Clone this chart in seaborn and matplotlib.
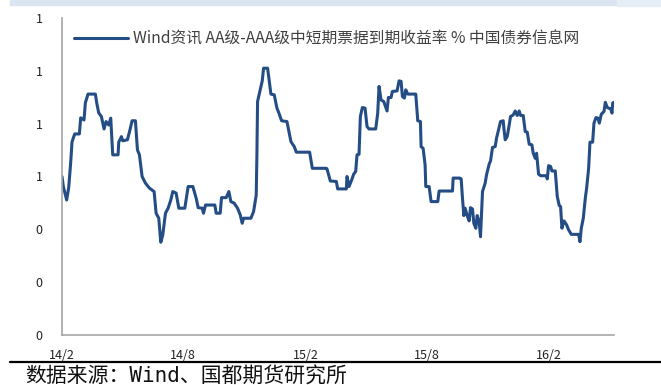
import pandas as pd
import matplotlib
matplotlib.use('Agg')
import matplotlib.pyplot as plt
import seaborn as sns
from matplotlib.lines import Line2D
from matplotlib.patches import Rectangle

# values (%, dates approx.)
dates = [
    '2014-02-01', '2014-02-03', '2014-02-08', '2014-02-11', '2014-02-14', '2014-02-16', '2014-02-20', '2014-02-27',
    '2014-03-01', '2014-03-06', '2014-03-08', '2014-03-12', '2014-03-23', '2014-03-25', '2014-03-28',
    '2014-04-01', '2014-04-05', '2014-04-08', '2014-04-12', '2014-04-15', '2014-04-18', '2014-04-26', '2014-04-27',
    '2014-05-01', '2014-05-03', '2014-05-10', '2014-05-13', '2014-05-17', '2014-05-22', '2014-05-25', '2014-05-28',
    '2014-06-01', '2014-06-06', '2014-06-12', '2014-06-19', '2014-06-22', '2014-06-26', '2014-06-29',
    '2014-07-02', '2014-07-06', '2014-07-10', '2014-07-14', '2014-07-17', '2014-07-22', '2014-07-26',
    '2014-08-04', '2014-08-09', '2014-08-16', '2014-08-21', '2014-08-24', '2014-08-30',
    '2014-09-01', '2014-09-04', '2014-09-18', '2014-09-20', '2014-09-26', '2014-09-28',
    '2014-10-05', '2014-10-09', '2014-10-12', '2014-10-17', '2014-10-22', '2014-10-26', '2014-10-29', '2014-10-31',
    '2014-11-11', '2014-11-15', '2014-11-19', '2014-11-20', '2014-11-21', '2014-11-25', '2014-11-28', '2014-11-30',
    '2014-12-06', '2014-12-09', '2014-12-11', '2014-12-16', '2014-12-20', '2014-12-23', '2014-12-27',
    '2015-01-04', '2015-01-07', '2015-01-10', '2015-01-15', '2015-01-18',
    '2015-02-07', '2015-02-11',
    '2015-03-04', '2015-03-05', '2015-03-10', '2015-03-19', '2015-03-21',
    '2015-04-03', '2015-04-04', '2015-04-07', '2015-04-11', '2015-04-14', '2015-04-17', '2015-04-19', '2015-04-22',
    '2015-04-24', '2015-04-27',
    '2015-05-01', '2015-05-04', '2015-05-07', '2015-05-17', '2015-05-20', '2015-05-22', '2015-05-25', '2015-05-29',
    '2015-06-03', '2015-06-05', '2015-06-09', '2015-06-11', '2015-06-18', '2015-06-21', '2015-06-24', '2015-06-26',
    '2015-06-29',
    '2015-07-01', '2015-07-04', '2015-07-16', '2015-07-19', '2015-07-23', '2015-07-24', '2015-07-27', '2015-07-30',
    '2015-07-31',
    '2015-08-05', '2015-08-08', '2015-08-18', '2015-08-20',
    '2015-09-09', '2015-09-10', '2015-09-20', '2015-09-22', '2015-09-24', '2015-09-26', '2015-09-28',
    '2015-10-01', '2015-10-04', '2015-10-06', '2015-10-09', '2015-10-11', '2015-10-14', '2015-10-16', '2015-10-19',
    '2015-10-21', '2015-10-24', '2015-10-28', '2015-10-30',
    '2015-11-03', '2015-11-05', '2015-11-08', '2015-11-12', '2015-11-14', '2015-11-17', '2015-11-20', '2015-11-24',
    '2015-11-25', '2015-11-27', '2015-11-30',
    '2015-12-03', '2015-12-05', '2015-12-09', '2015-12-12', '2015-12-15', '2015-12-18', '2015-12-20', '2015-12-24',
    '2015-12-27', '2015-12-30',
    '2016-01-02', '2016-01-06', '2016-01-08', '2016-01-11', '2016-01-13', '2016-01-16', '2016-01-19', '2016-01-28',
    '2016-01-29', '2016-01-31',
    '2016-02-03', '2016-02-05', '2016-02-10', '2016-02-13', '2016-02-16', '2016-02-18', '2016-02-20', '2016-02-23',
    '2016-02-27',
    '2016-03-01', '2016-03-05', '2016-03-16', '2016-03-18', '2016-03-20', '2016-03-23', '2016-03-26', '2016-03-28',
    '2016-03-31',
    '2016-04-02', '2016-04-06', '2016-04-08', '2016-04-11', '2016-04-14', '2016-04-16', '2016-04-19', '2016-04-23',
    '2016-04-25', '2016-04-28',
    '2016-05-03', '2016-05-05', '2016-05-06', '2016-05-08',
]
spread = [
    0.600, 0.562, 0.511, 0.557, 0.652, 0.731, 0.761, 0.761,
    0.822, 0.814, 0.879, 0.912, 0.912, 0.879, 0.841,
    0.827, 0.780, 0.808, 0.795, 0.821, 0.682, 0.682, 0.730,
    0.751, 0.735, 0.739, 0.768, 0.811, 0.811, 0.701, 0.682,
    0.600, 0.575, 0.556, 0.543, 0.461, 0.442, 0.351,
    0.379, 0.461, 0.480, 0.511, 0.543, 0.537, 0.480,
    0.480, 0.562, 0.562, 0.518, 0.482, 0.480,
    0.461, 0.492, 0.492, 0.461, 0.461, 0.520,
    0.520, 0.543, 0.505, 0.499, 0.480, 0.455, 0.423, 0.442,
    0.442, 0.467, 0.530, 0.682, 0.884, 0.928, 0.962, 1.010,
    1.010, 0.953, 0.912, 0.909, 0.859, 0.840, 0.811,
    0.808, 0.770, 0.732, 0.713, 0.692,
    0.692, 0.631,
    0.631, 0.629, 0.583, 0.581, 0.553,
    0.553, 0.600, 0.562, 0.587, 0.609, 0.619, 0.682, 0.684, 0.827, 0.861,
    0.859, 0.789, 0.780, 0.780, 0.840, 0.941, 0.890, 0.884,
    0.848, 0.899, 0.899, 0.922, 0.924, 0.962, 0.960, 0.903, 0.897,
    0.928, 0.912, 0.912, 0.811, 0.808, 0.713, 0.707, 0.644, 0.562,
    0.562, 0.505, 0.505, 0.545,
    0.545, 0.594, 0.594, 0.591, 0.518, 0.452, 0.480,
    0.452, 0.432, 0.482, 0.477, 0.423, 0.404, 0.452, 0.429, 0.372, 0.543, 0.575, 0.606,
    0.647, 0.659, 0.710, 0.713, 0.745, 0.777, 0.808, 0.811, 0.783, 0.739, 0.751,
    0.795, 0.827, 0.833, 0.848, 0.831, 0.848, 0.831, 0.831, 0.770, 0.768,
    0.722, 0.720, 0.688, 0.669, 0.688, 0.609, 0.603, 0.603, 0.591, 0.641,
    0.638, 0.621, 0.621, 0.524, 0.490, 0.486, 0.404, 0.432, 0.417,
    0.398, 0.381, 0.381, 0.353, 0.404, 0.442, 0.518, 0.556, 0.631,
    0.730, 0.730, 0.802, 0.823, 0.821, 0.802, 0.836, 0.846, 0.881, 0.861,
    0.856, 0.840, 0.878, 0.881,
]
tick_dates = ['2014-02-01', '2014-08-01', '2015-02-01', '2015-08-01', '2016-02-01']
tick_labels = ['14/2', '14/8', '15/2', '15/8', '16/2']
series_name = 'Wind资讯 AA级-AAA级中短期票据到期收益率 % 中国债券信息网'
source_note = '数据来源：Wind、国都期货研究所'

sns.set_style('white')
plt.rcParams['font.family'] = ['Noto Sans CJK SC', 'DejaVu Sans']

df = pd.DataFrame({'date': pd.to_datetime(dates), 'spread': spread})

fig = plt.figure(figsize=(6.61, 3.85), dpi=100)
ax = fig.add_axes([62 / 661, 1 - 335 / 385, 552 / 661, 317 / 385])

sns.lineplot(data=df, x='date', y='spread', ax=ax, color='#234d84', linewidth=2.2,
             label=series_name)

ax.set_xlim(pd.Timestamp('2014-02-01'), pd.Timestamp('2016-05-08'))
ax.set_ylim(0, 1.2)
ax.set_yticks([0, 0.2, 0.4, 0.6, 0.8, 1.0, 1.2])
ax.set_yticklabels([f'{v:.0f}' for v in [0, 0.2, 0.4, 0.6, 0.8, 1.0, 1.2]])
ax.set_xticks(pd.to_datetime(tick_dates))
ax.set_xticklabels(tick_labels)
ax.set_xlabel('')
ax.set_ylabel('')

for side in ['top', 'right']:
    ax.spines[side].set_visible(False)
for side in ['left', 'bottom']:
    ax.spines[side].set_color('#a6a6a6')
    ax.spines[side].set_linewidth(1.2)
ax.tick_params(axis='y', direction='out', length=4, width=1.2, color='#a6a6a6',
               pad=10, labelsize=9, labelcolor='#222222')
ax.tick_params(axis='x', direction='out', length=4, width=1.2, color='#a6a6a6',
               pad=6, labelsize=9, labelcolor='#222222')

leg = ax.legend(loc='center left', bbox_to_anchor=(0.022, 0.934), frameon=False,
                borderpad=0, borderaxespad=0, handlelength=3.4, handletextpad=0.35,
                fontsize=11.3)
for t in leg.get_texts():
    t.set_color('#404040')

# top band and bottom rule like the report page
fig.patches.append(Rectangle((10 / 661, 1 - 5 / 385), 607 / 661, 5 / 385,
                             transform=fig.transFigure, color='#dbe5f1', zorder=0))
fig.patches.append(Rectangle((617 / 661, 1 - 6 / 385), 44 / 661, 6 / 385,
                             transform=fig.transFigure, color='#e6edf5', zorder=0))
fig.add_artist(Line2D([10 / 661, 1], [1 - 362 / 385, 1 - 362 / 385],
                      transform=fig.transFigure, color='black', linewidth=1.6))
fig.text(25 / 661, 1 - 376 / 385, source_note, fontsize=15, va='center', ha='left',
         color='#111111', family=['DejaVu Sans Mono', 'Noto Sans CJK SC'])

fig.savefig('out.png', dpi=100)
